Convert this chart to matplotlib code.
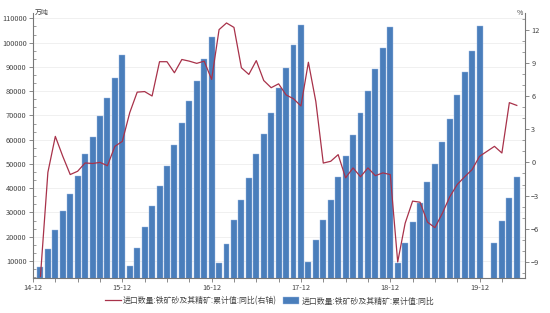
import numpy as np
import pandas as pd
import matplotlib
matplotlib.use("Agg")
import matplotlib.pyplot as plt
from matplotlib.ticker import FixedLocator, MultipleLocator, AutoMinorLocator

plt.rcParams["font.family"] = ["Noto Sans CJK SC", "DejaVu Sans"]

# monthly data, 2015-01 .. 2020-05 (2020-01 not published)
months = pd.period_range("2015-01", "2020-05", freq="M")

cum_volume = [
    7700, 14800, 22700, 30600, 37700, 45200, 53900, 61200, 69800, 77300, 85500, 95100,
    8100, 15500, 24100, 32500, 41000, 49300, 57900, 66800, 76000, 84200, 93200, 102300,
    9000, 17200, 27100, 35300, 44400, 53900, 62300, 71200, 81200, 89600, 98900, 107400,
    9700, 18600, 27100, 35300, 44600, 53200, 61900, 70800, 80100, 89000, 97700, 106300,
    9000, 17500, 26000, 33900, 42400, 50000, 58900, 68500, 78300, 87900, 96700, 106700,
    np.nan, 17600, 26400, 35800, 44600,
]

cum_yoy = [
    -10.3, -0.9, 2.35, 0.55, -1.1, -0.8, -0.05, -0.1, 0.0, -0.3, 1.45, 1.9,
    4.5, 6.35, 6.4, 6.0, 9.1, 9.1, 8.1, 9.3, 9.15, 8.95, 9.15, 7.5,
    12.0, 12.6, 12.2, 8.55, 7.95, 9.2, 7.4, 6.75, 7.1, 6.1, 5.75, 5.1,
    9.05, 5.5, -0.06, 0.1, 0.7, -1.4, -0.5, -1.3, -0.5, -1.2, -0.95, -1.1,
    -9.0, -5.5, -3.5, -3.6, -5.4, -5.9, -4.6, -3.1, -2.0, -1.3, -0.65, 0.55,
    np.nan, 1.45, 0.85, 5.4, 5.15,
]

tick_months = pd.period_range("2014-12", "2020-03", freq="3M")

label_line = "进口数量:铁矿砂及其精矿:累计值:同比(右轴)"
label_bar = "进口数量:铁矿砂及其精矿:累计值:同比"

# month index, 2014-12 = 0
x = np.array([(m.year - 2014) * 12 + m.month - 12 for m in months])
vol = np.array(cum_volume, dtype=float)
yoy = np.array(cum_yoy, dtype=float)
tx = [(m.year - 2014) * 12 + m.month - 12 for m in tick_months]
tlabels = [m.strftime("%y-%m") if m.month == 12 else "" for m in tick_months]

fig = plt.figure(figsize=(5.5, 3.13), dpi=100)
ax = fig.add_axes([0.06, 0.1118, 0.8945, 0.8466])
ax2 = ax.twinx()

bar_color = "#4a7ebb"
line_color = "#a8324a"
axis_color = "#777777"
text_color = "#444444"

ok = ~np.isnan(vol)
bars = ax.bar(x[ok], vol[ok], width=0.8, color=bar_color, edgecolor="#9dbbe3",
              linewidth=0.3, label=label_bar)
ok = ~np.isnan(yoy)
line, = ax2.plot(x[ok], yoy[ok], color=line_color, lw=0.9, label=label_line)

ax.set_xlim(0, 66.1)
ax.set_ylim(3000, 112200)
ax2.set_ylim(-10.45, 13.5)

ax.yaxis.set_major_locator(MultipleLocator(10000))
ax.yaxis.set_minor_locator(AutoMinorLocator(3))
ax2.yaxis.set_major_locator(MultipleLocator(3))
ax2.yaxis.set_minor_locator(AutoMinorLocator(3))
ax.xaxis.set_major_locator(FixedLocator(tx))
ax.set_xticklabels(tlabels)

ax.yaxis.grid(True, color="#eeeeee", lw=0.6)
ax.set_axisbelow(True)

for a in (ax, ax2):
    a.spines["top"].set_visible(False)
    for s in a.spines.values():
        s.set_color(axis_color)
        s.set_linewidth(0.8)
    a.tick_params(which="major", length=3, width=0.6, color=axis_color,
                  labelsize=5.3, labelcolor=text_color, pad=1.5)
    a.tick_params(which="minor", length=2, width=0.5, color=axis_color, direction="in")
ax.spines["right"].set_visible(False)
ax2.spines["left"].set_visible(False)
ax2.spines["bottom"].set_visible(False)

ax.annotate("万吨", xy=(0, 1), xycoords="axes fraction", xytext=(1.5, 0),
            textcoords="offset points", ha="left", va="center", fontsize=5,
            color=text_color)
ax2.annotate("%", xy=(1, 1), xycoords="axes fraction", xytext=(-1.5, 0),
             textcoords="offset points", ha="right", va="center", fontsize=5,
             color=text_color)

fig.legend([line, bars], [label_line, label_bar], loc="center",
           bbox_to_anchor=(0.49, 1 - 301 / 313), ncol=2, frameon=False,
           fontsize=5.7, handlelength=2.0, handleheight=1.0, handletextpad=0.3,
           columnspacing=0.8, labelcolor=text_color)

fig.savefig("out.png", dpi=100)
